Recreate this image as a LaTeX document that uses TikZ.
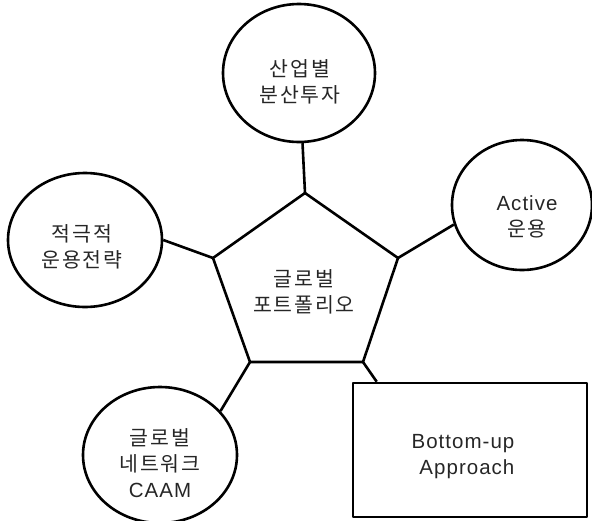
\documentclass[tikz,border=0pt]{standalone}
\usepackage{fontspec}
\setmainfont[LetterSpace=5]{Liberation Sans}
\newfontfamily\kr[LetterSpace=9]{Noto Sans CJK KR}
\usetikzlibrary{shapes.geometric}
\begin{document}
\begin{tikzpicture}[x=1pt,y=-1pt,line width=2.6pt,line join=round,
  bubble/.style={draw,ellipse,inner sep=0pt},
  boxnode/.style={draw,rectangle,inner sep=0pt},
  txt/.style={align=center,inner sep=0pt,text=black!85,font=\fontsize{20.5}{26}\selectfont},
  link/.style={draw,line width=2.6pt}]
\useasboundingbox (0,0) rectangle (592,520);
% pentagon vertices
\coordinate (p1) at (305,193);
\coordinate (p2) at (213,258);
\coordinate (p3) at (398,258);
\coordinate (p4) at (250,362);
\coordinate (p5) at (363,362);
\draw (p1) -- (p3) -- (p5) -- (p4) -- (p2) -- cycle;
\node[txt] (core) at (304,292) {{\kr 글로벌}\\{\kr 포트폴리오}};
% outer nodes
\node[bubble,minimum width=152pt,minimum height=138pt] (top) at (299,73) {};
\node[txt] (toptext) at (300,82) {{\kr 산업별}\\{\kr 분산투자}};
\node[bubble,minimum width=154pt,minimum height=134pt] (left) at (85,240) {};
\node[txt] (lefttext) at (82,247) {{\kr 적극적}\\{\kr 운용전략}};
\node[bubble,minimum width=140pt,minimum height=130pt] (right) at (522,205) {};
\node[txt] (righttext) at (527,217) {Active\\{\kr 운용}};
\node[bubble,minimum width=154pt,minimum height=136pt] (bl) at (160,455) {};
\node[txt] (bltext) at (160,463) {{\kr 글로벌}\\{\kr 네트워크}\\CAAM};
\node[boxnode,minimum width=234pt,minimum height=134pt] (rect) at (470,450) {};
\node[txt,align=right] (recttext) at (463,457) {Bottom-up\\Approach};
% connectors
\draw[link] (top) -- (p1);
\draw[link] (left.east) -- (p2);
\draw[link] (right.196) -- (p3);
\draw[link] (bl.36) -- (p4);
\draw[link] ([xshift=25pt]rect.north west) -- (p5);
\end{tikzpicture}
\end{document}
